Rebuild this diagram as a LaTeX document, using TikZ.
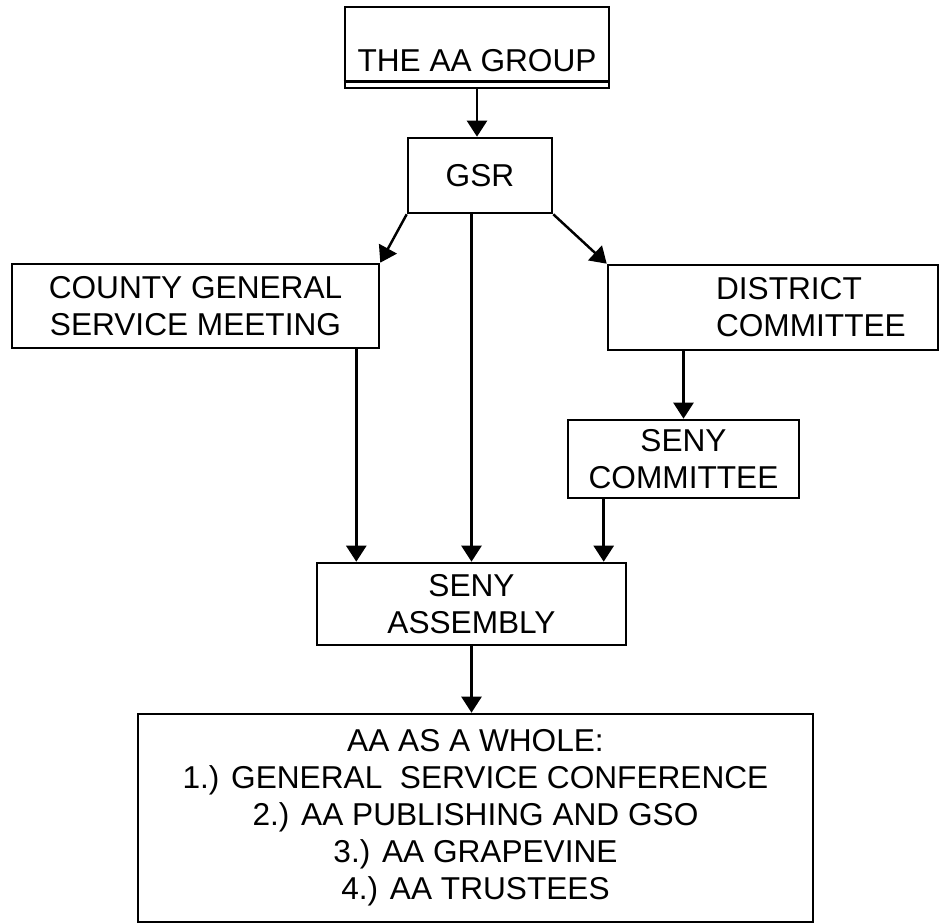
\documentclass[tikz,border=0pt]{standalone}
\usepackage{fontspec}
\setmainfont{Liberation Sans}
\usetikzlibrary{arrows.meta}

\newcommand{\boxfont}{\fontsize{18}{21}\selectfont}

\tikzset{
  box/.style={draw, rectangle, line width=1.5pt, align=center, font=\boxfont, inner sep=0pt},
  arr/.style={-{Triangle[width=0.4cm,length=0.32cm]}, line width=1.4pt},
}

\begin{document}
\begin{tikzpicture}[x=0.02cm, y=-0.02cm]
  \useasboundingbox (0,0) rectangle (940,923);

  % boxes
  \node[box, minimum width=5.28cm, text height=1.3cm, text depth=0.32cm] (group) at (477,47.5) {THE AA GROUP};
  \draw[line width=1.5pt] ([yshift=0.16cm]group.south west) -- ([yshift=0.16cm]group.south east);
  \node[box, minimum width=2.88cm, minimum height=1.5cm] (gsr) at (480,175.5) {GSR};
  \node[box, minimum width=7.34cm, minimum height=1.68cm] (county) at (195.5,306) {COUNTY GENERAL\\SERVICE MEETING};
  \node[box, minimum width=6.6cm, minimum height=1.7cm] (district) at (773,307.5) {};
  \node[font=\boxfont, align=left, anchor=west, inner sep=0pt] (districttext) at ([xshift=2.18cm]district.west) {DISTRICT\\COMMITTEE};
  \node[box, minimum width=4.62cm, minimum height=1.56cm] (seny) at (683.5,459) {SENY\\COMMITTEE};
  \node[box, minimum width=6.18cm, minimum height=1.64cm] (assembly) at (471.5,604) {SENY\\ASSEMBLY};
  \node[box, minimum width=13.5cm, minimum height=4.16cm] (whole) at (475.5,818)
    {AA AS A WHOLE:\\1.) GENERAL\ \ SERVICE CONFERENCE\\2.) AA PUBLISHING AND GSO\\3.) AA GRAPEVINE\\4.) AA TRUSTEES};

  % arrows
  \coordinate (countyout) at ([xshift=-0.48cm]county.south east);
  \coordinate (senyout) at ([xshift=0.74cm]seny.south west);
  \draw[arr] (group.south) -- (group.south |- gsr.north);
  \draw[arr] (gsr.south west) -- (county.north east);
  \draw[arr] (gsr.south east) -- (district.north west);
  \draw[arr] (countyout) -- (countyout |- assembly.north);
  \draw[arr] (gsr.south -| assembly.north) -- (assembly.north);
  \draw[arr] (district.south -| seny.north) -- (seny.north);
  \draw[arr] (senyout) -- (senyout |- assembly.north);
  \draw[arr] (assembly.south) -- (assembly.south |- whole.north);

\end{tikzpicture}
\end{document}
